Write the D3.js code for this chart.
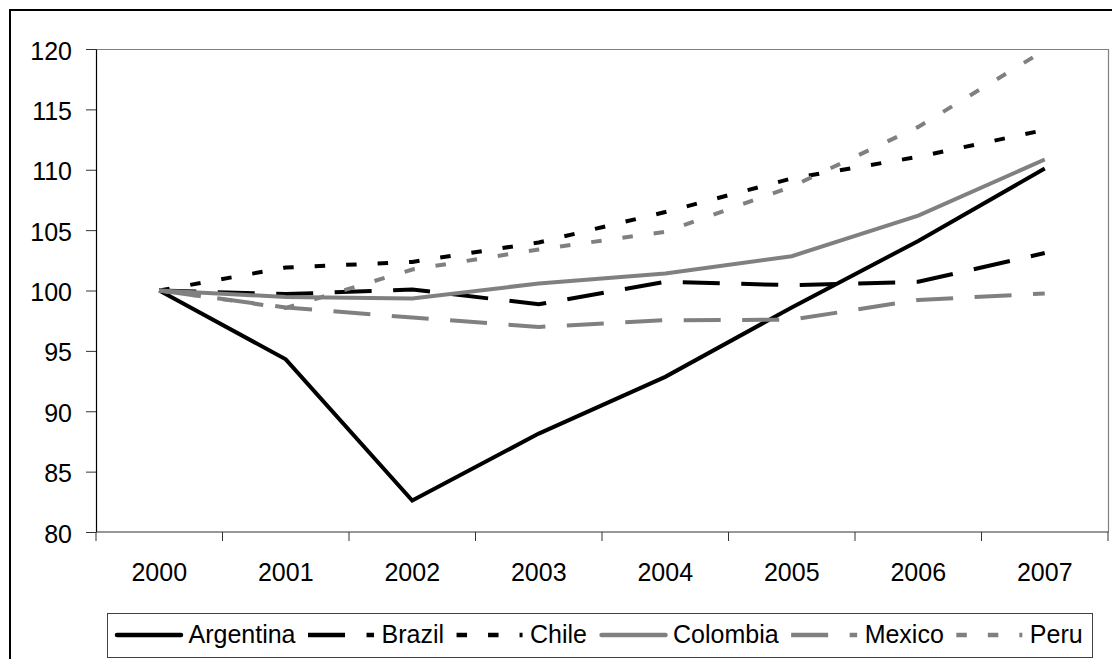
<!DOCTYPE html>
<html>
<head>
<meta charset="utf-8">
<script src="https://cdn.jsdelivr.net/npm/d3@7"></script>
<style>
  html, body { margin: 0; padding: 0; background: #fff; }
  svg { display: block; font-family: Arial, "Liberation Sans", sans-serif; }
</style>
</head>
<body>
<svg id="chart" width="1112" height="659"></svg>
<script>
// Index, 2000 = 100
const years = ["2000", "2001", "2002", "2003", "2004", "2005", "2006", "2007"];
const yTicks = [80, 85, 90, 95, 100, 105, 110, 115, 120];

const argentina = [100, 94.3, 82.6, 88.15, 92.85, 98.6, 104.1, 110.1];
const brazil    = [100, 99.7, 100.08, 98.86, 100.72, 100.44, 100.72, 103.1];
const chile     = [100, 101.9, 102.37, 103.98, 106.5, 109.28, 111.07, 113.3];
const colombia  = [100, 99.47, 99.34, 100.58, 101.4, 102.84, 106.2, 110.85];
const mexico    = [100, 98.6, 97.76, 96.98, 97.54, 97.58, 99.22, 99.75];
const peru      = [100, 98.55, 101.74, 103.4, 104.86, 108.6, 113.55, 119.9];

const seriesNames = ["Argentina", "Brazil", "Chile", "Colombia", "Mexico", "Peru"];
const seriesValues = [argentina, brazil, chile, colombia, mexico, peru];

// stroke styles per series
const styles = {
  Argentina: { color: "#000000", dash: null },
  Brazil:    { color: "#000000", dash: "37,21.5" },
  Chile:     { color: "#000000", dash: "10.5,21" },
  Colombia:  { color: "#808080", dash: null },
  Mexico:    { color: "#808080", dash: "37,21.5" },
  Peru:      { color: "#808080", dash: "10.5,21" }
};

const svg = d3.select("#chart");
const W = 1112, H = 659;
const plot = { left: 96, right: 1108, top: 49, bottom: 532 };
const fontSize = 25;
const lineW = 4;

// outer frame (runs off the right and bottom edges)
svg.append("rect")
  .attr("x", 10).attr("y", 10)
  .attr("width", W + 20).attr("height", H + 20)
  .attr("fill", "#fff").attr("stroke", "#000").attr("stroke-width", 2);

const xBand = d3.scaleBand().domain(years).range([plot.left, plot.right]);
const x = d3.scalePoint().domain(years).range([plot.left, plot.right]).padding(0.5);
const y = d3.scaleLinear().domain([80, 120]).range([plot.bottom, plot.top]);

// plot area border (top and right in grey)
svg.append("path")
  .attr("d", `M${plot.left},${plot.top + 0.5}H${plot.right + 0.5}V${plot.bottom}`)
  .attr("fill", "none").attr("stroke", "#808080").attr("stroke-width", 1.2);

// y axis
const yAxis = d3.axisLeft(y).tickValues(yTicks).tickSize(10).tickPadding(14).tickSizeOuter(0);
const gy = svg.append("g").attr("transform", `translate(${plot.left},0)`).call(yAxis);
gy.select(".domain").attr("stroke", "#000").attr("stroke-width", 1.2);
gy.selectAll(".tick line").attr("stroke", "#333");
gy.selectAll(".tick text")
  .attr("font-size", fontSize).attr("font-family", "Arial, 'Liberation Sans', sans-serif")
  .attr("fill", "#000").attr("dy", "0.4em");

// x axis: ticks on category boundaries, labels at category centres
const gx = svg.append("g").attr("class", "x-axis");
gx.append("line")
  .attr("x1", plot.left).attr("x2", plot.right + 0.5)
  .attr("y1", plot.bottom).attr("y2", plot.bottom)
  .attr("stroke", "#333").attr("stroke-width", 1.2);
const boundaries = years.map(d => xBand(d)).concat([xBand(years[years.length - 1]) + xBand.bandwidth()]);
gx.selectAll("line.tick").data(boundaries).join("line")
  .attr("class", "tick")
  .attr("x1", d => d).attr("x2", d => d)
  .attr("y1", plot.bottom).attr("y2", plot.bottom + 9)
  .attr("stroke", "#333").attr("stroke-width", 1);
gx.selectAll("text").data(years).join("text")
  .attr("x", d => x(d)).attr("y", 581)
  .attr("text-anchor", "middle")
  .attr("font-size", fontSize).attr("fill", "#000")
  .text(d => d);

// series lines
const line = d3.line().x((d, i) => x(years[i])).y(d => y(d));
const gLines = svg.append("g");
seriesNames.forEach((name, k) => {
  const st = styles[name];
  gLines.append("path")
    .datum(seriesValues[k])
    .attr("d", line)
    .attr("fill", "none")
    .attr("stroke", st.color)
    .attr("stroke-width", lineW)
    .attr("stroke-linejoin", "miter")
    .attr("stroke-dasharray", st.dash);
});

// legend
const legend = svg.append("g");
legend.append("rect")
  .attr("x", 107.5).attr("y", 613.5)
  .attr("width", 985).attr("height", 44)
  .attr("fill", "#fff").attr("stroke", "#404040").attr("stroke-width", 1);
const sampleLen = 66, textGap = 73.5, entryGap = 12.5, legendY = 635;
let cursor = 115;
seriesNames.forEach(name => {
  const st = styles[name];
  legend.append("line")
    .attr("x1", st.dash ? cursor : cursor + 2)
    .attr("x2", cursor + sampleLen)
    .attr("y1", legendY).attr("y2", legendY)
    .attr("stroke", st.color).attr("stroke-width", lineW + 0.5)
    .attr("stroke-linecap", st.dash ? "butt" : "round")
    .attr("stroke-dasharray", st.dash);
  const t = legend.append("text")
    .attr("x", cursor + textGap).attr("y", 643.3)
    .attr("font-size", fontSize).attr("fill", "#000")
    .text(name);
  cursor += textGap + t.node().getComputedTextLength() + entryGap;
});
</script>
</body>
</html>
